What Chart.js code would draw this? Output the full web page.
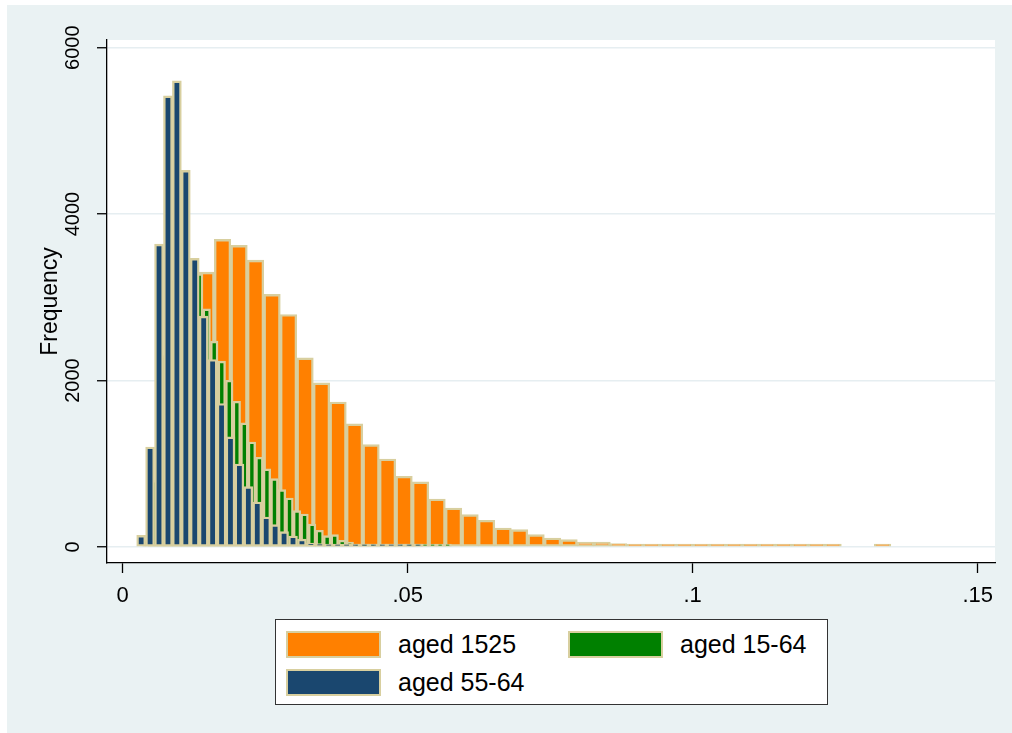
<!DOCTYPE html>
<html>
<head>
<meta charset="utf-8">
<script src="https://cdn.jsdelivr.net/npm/chart.js@4/dist/chart.umd.min.js"></script>
<style>
  html, body { margin: 0; padding: 0; background: #ffffff; }
  #wrap { position: relative; width: 1012px; height: 733px; overflow: hidden; }
  #c { display: block; }
  #legend {
    position: absolute; left: 275px; top: 619px; width: 553px; height: 86px;
    box-sizing: border-box; border: 1.5px solid #333; background: #fff;
    font-family: "Liberation Sans", Arial, sans-serif; font-size: 25px; color: #000;
  }
  #legend .item { position: absolute; display: flex; align-items: center; height: 27px; }
  #legend .sw { width: 95px; height: 27px; box-sizing: border-box; border: 2.5px solid #d8cf9f; margin-right: 17px; }
</style>
</head>
<body>
<div id="wrap">
  <canvas id="c" width="1012" height="733"></canvas>
  <div id="legend"></div>
</div>
<script>
// Series names and fill colours
const seriesLabels = ['aged 1525', 'aged 15-64', 'aged 55-64'];
const seriesColors = ['#ff8000', '#008000', '#1a476f'];
const outlineColor = '#d8cf9f';

// Histogram of "aged 1525": left edge of first bin, bin width, frequency per bin (null = empty bin)
const youthStart = 0.004491;
const youthWidth = 0.002895;
const youthCounts = [300, 1600, 2800, 3303, 3696, 3624, 3447, 3035, 2794, 2272,
  1972, 1743, 1479, 1231, 1058, 850, 782, 577, 469, 390,
  321, 228, 209, 149, 108, 89, 60, 60, 41, 20,
  20, 8, 5, 5, 4, 3, 3, 3, 2, 2,
  2, 2, null, null, 1];

// Histogram of "aged 15-64"
const allStart = 0.003509;
const allWidth = 0.001321;
const allCounts = [90, 800, 2300, 3200, 3600, 3650, 3400, 3283, 2862, 2473,
  2233, 2004, 1752, 1491, 1262, 1079, 938, 822, 690, 589,
  438, 397, 277, 201, 137, 149, 81, 60, 29, 15,
  10, 6, 4, 3, 2, 2, 1, 1, 1, 1, 1];

// Histogram of "aged 55-64"
const olderStart = 0.002456;
const olderWidth = 0.001567;
const olderCounts = [140, 1202, 3640, 5420, 5600, 4525, 3468, 2774, 2253, 1724,
  1323, 998, 726, 541, 361, 269, 185, 132, 95, 48,
  41, 29, 8, 5, 4, 3, 2, 2, 1, 1, 1, 1];

// Axis ticks
const xTickValues = [0, 0.05, 0.1, 0.15];
const xTickLabels = ['0', '.05', '.1', '.15'];
const yTickValues = [0, 2000, 4000, 6000];
const yTickLabels = ['0', '2000', '4000', '6000'];

// Axis extents
const xMin = -0.002754, xMax = 0.15304;
const yMin = -192, yMax = 6092;

const FONT = '"Liberation Sans", Arial, sans-serif';

// Bin centres and counts -> {x, y} points (empty bins are left out)
function binPoints(start, width, counts) {
  const pts = [];
  counts.forEach((c, i) => {
    if (c !== null) pts.push({ x: start + (i + 0.5) * width, y: c });
  });
  return pts;
}

// Each histogram sits on its own x scale, so bars are one bin wide and overlap instead of grouping
const barStyle = {
  borderColor: outlineColor,
  borderWidth: 2.4,
  borderSkipped: false,
  minBarLength: 3,
  grouped: false,
  categoryPercentage: 1,
  barPercentage: 1
};

const datasets = [
  Object.assign({ label: seriesLabels[0], data: binPoints(youthStart, youthWidth, youthCounts),
    backgroundColor: seriesColors[0], xAxisID: 'x', order: 3 }, barStyle),
  Object.assign({ label: seriesLabels[1], data: binPoints(allStart, allWidth, allCounts),
    backgroundColor: seriesColors[1], xAxisID: 'xg', order: 2 }, barStyle),
  Object.assign({ label: seriesLabels[2], data: binPoints(olderStart, olderWidth, olderCounts),
    backgroundColor: seriesColors[2], xAxisID: 'xn', order: 1 }, barStyle)
];

// Graph region (light bluish grey) and white plot region
const backdrop = {
  id: 'backdrop',
  beforeDraw(chart) {
    const { ctx, chartArea: a } = chart;
    ctx.save();
    ctx.fillStyle = '#ffffff';
    ctx.fillRect(0, 0, chart.width, chart.height);
    ctx.fillStyle = '#eaf2f3';
    ctx.fillRect(7, 5, chart.width - 7, chart.height - 5);
    ctx.fillStyle = '#ffffff';
    ctx.fillRect(a.left, a.top, a.right - a.left, a.bottom - a.top);
    ctx.restore();
  }
};

function hiddenX() {
  return { type: 'linear', display: false, offset: false, min: xMin, max: xMax,
    grid: { offset: false },
    afterBuildTicks: s => { s.ticks = xTickValues.map(v => ({ value: v })); } };
}

const chart = new Chart(document.getElementById('c'), {
  type: 'bar',
  data: { datasets },
  plugins: [backdrop],
  options: {
    responsive: false,
    animation: false,
    layout: { padding: { left: 0, top: 40, right: 17, bottom: 120 } },
    plugins: { legend: { display: false }, tooltip: { enabled: false } },
    scales: {
      x: {
        type: 'linear', position: 'bottom', offset: false, min: xMin, max: xMax,
        afterBuildTicks: s => { s.ticks = xTickValues.map(v => ({ value: v })); },
        afterFit: s => { s.height = 50; },
        ticks: { autoSkip: false, maxRotation: 0, minRotation: 0, padding: 10, color: '#000',
          font: { family: FONT, size: 22 }, callback: (v, i) => xTickLabels[i] },
        grid: { offset: false, drawOnChartArea: false, tickLength: 10, tickColor: '#000', tickWidth: 1.3 },
        border: { color: '#000', width: 1.3 }
      },
      xg: hiddenX(),
      xn: hiddenX(),
      y: {
        type: 'linear', position: 'left', min: yMin, max: yMax,
        afterBuildTicks: s => { s.ticks = yTickValues.map(v => ({ value: v })); },
        afterFit: s => { s.width = 107; },
        ticks: { autoSkip: false, minRotation: 90, maxRotation: 90, crossAlign: 'center',
          padding: 1, color: '#000', font: { family: FONT, size: 20 },
          callback: (v, i) => yTickLabels[i] },
        grid: { color: '#e6eef1', lineWidth: 1.5, tickLength: 10, tickColor: '#000', tickWidth: 1.3 },
        border: { color: '#000', width: 1.3 },
        title: { display: true, text: 'Frequency', color: '#000',
          font: { family: FONT, size: 23 }, padding: { top: 37, bottom: 0 } }
      }
    }
  }
});

// Legend box: two columns, built from the chart's datasets
const legend = document.getElementById('legend');
chart.data.datasets.forEach((ds, i) => {
  const item = document.createElement('div');
  item.className = 'item';
  item.style.left = (10 + (i % 2) * 282) + 'px';
  item.style.top = (11 + Math.floor(i / 2) * 38) + 'px';
  const sw = document.createElement('div');
  sw.className = 'sw';
  sw.style.background = ds.backgroundColor;
  const txt = document.createElement('span');
  txt.textContent = ds.label;
  item.appendChild(sw);
  item.appendChild(txt);
  legend.appendChild(item);
});
</script>
</body>
</html>
